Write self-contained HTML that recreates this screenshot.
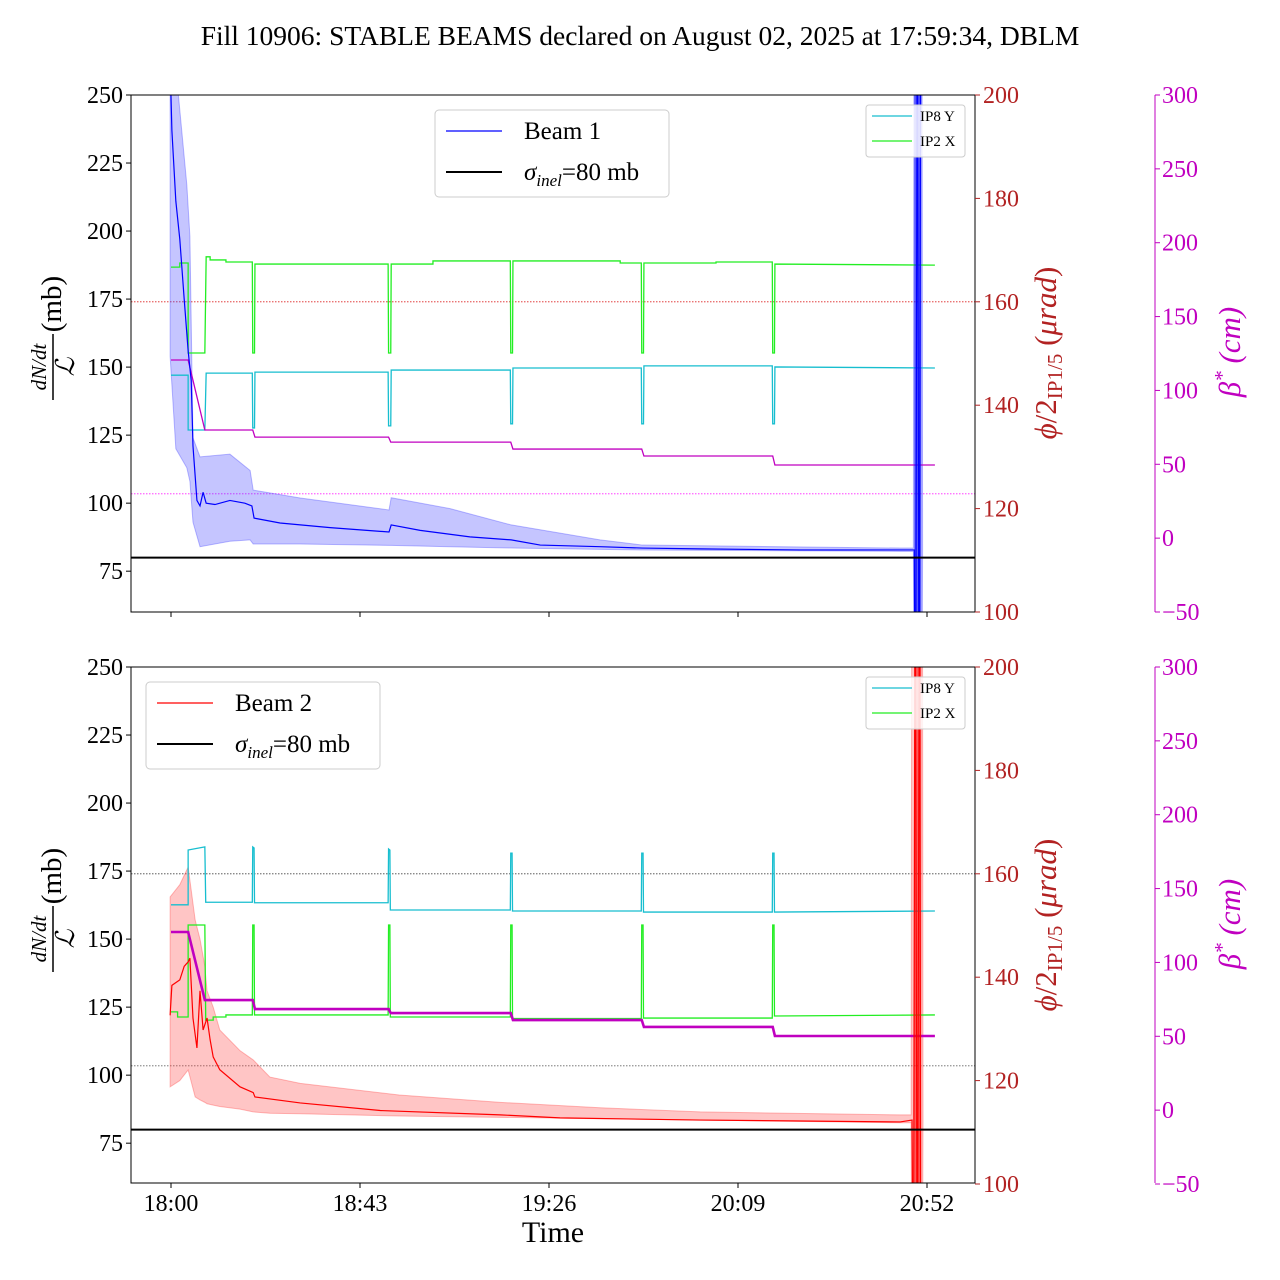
<!DOCTYPE html>
<html><head><meta charset="utf-8">
<style>
html,body{margin:0;padding:0;background:#fff;width:1280px;height:1280px;overflow:hidden;}
svg{display:block;font-family:"Liberation Serif",serif;}
</style></head>
<body>
<svg id="chart" width="1280" height="1280" viewBox="0 0 1280 1280" xmlns="http://www.w3.org/2000/svg">
<defs>
<clipPath id="clipTop"><rect x="131" y="95" width="844" height="517"/></clipPath>
<clipPath id="clipBot"><rect x="131" y="667" width="844" height="516"/></clipPath>
</defs>
<text x="640" y="45" font-size="27.5" text-anchor="middle">Fill 10906: STABLE BEAMS declared on August 02, 2025 at 17:59:34, DBLM</text>
<g id="gTop"></g>
<g id="gBot"></g>
<text x="553" y="1242" font-size="30" text-anchor="middle">Time</text>
</svg>
<script>
// ---- data (time in minutes after 18:00) ----
const xTickLabels = ["18:00","18:43","19:26","20:09","20:52"];
const xTickMinutes = [0,43,86,129,172];
const leftTicks = [75,100,125,150,175,200,225,250];
const phiTicks = [100,120,140,160,180,200];
const betaTicks = [-50,0,50,100,150,200,250,300];

const b1_t = [-0.2,0.2,1.1,2.0,3.0,3.9,4.6,5.0,5.9,6.6,7.3,8.0,10.0,13.4,16.8,18.4,18.9,24.8,36.2,49.6,50.1,56.7,68.0,77.4,84.0,97.6,107.2,120.4,143.1,168.2,169.1,169.4,169.8,170.2,170.6];
const b1_v = [262,237,211,197,175,156,145,121,101,99,104,100,99.5,101,100,99,94.5,92.7,91,89.4,92,90,87.6,86.5,84.6,84,83.5,83.2,82.8,82.8,82.8,0,300,0,300];
const b1band_t = [-0.2,1.1,3.6,4.3,5.0,6.6,13.4,18.0,18.7,29.4,49.6,50.1,63.5,77.4,97.6,107.2,165.9,168.9,169.1,170.8,171.0];
const b1band_hi = [300,260,217,198,124,117,118,112,104.8,101.9,97.5,102,98,92,86.5,84.6,83.5,83.5,400,400,83.5];
const b1band_lo = [154,120,113,108,93,84,86,86.5,85,85,84.5,84.5,84,83.5,83,82.8,82.3,82.3,0,0,82.3];

const topIp2x_t = [0,2.0,2.0,3.9,3.9,7.7,8.0,8.9,8.9,12.5,12.5,18.5,18.6,19.0,19.1,49.4,49.5,50.0,50.1,59.6,59.6,77.2,77.3,77.7,77.8,102.2,102.2,107.0,107.1,107.5,107.6,124,124,136.8,136.9,137.3,137.4,173.8];
const topIp2x_v = [166.7,166.7,167.5,167.5,150.1,150.1,168.7,168.7,168.1,168.1,167.7,167.7,150.1,150.1,167.3,167.3,150.1,150.1,167.3,167.3,167.9,167.9,150.1,150.1,167.9,167.9,167.5,167.5,150.1,150.1,167.5,167.5,167.7,167.7,150.1,150.1,167.3,167.1];
const topIp8y_t = [0,3.9,3.9,7.7,8.0,18.5,18.6,19.0,19.1,49.4,49.5,50.0,50.1,77.2,77.3,77.7,77.8,107.0,107.1,107.5,107.6,136.8,136.9,137.3,137.4,173.8];
const topIp8y_v = [145.8,145.8,135.2,135.2,146.2,146.2,135.6,135.6,146.4,146.4,136,136,146.8,146.8,136.4,136.4,147.2,147.2,136.4,136.4,147.6,147.6,136.4,136.4,147.4,147.2];
const beta_t = [0,3.9,7.7,18.6,19.1,49.5,50.0,77.3,77.8,107.1,107.6,136.9,137.4,173.8];
const topBeta_v = [120.6,120.6,73.2,73.2,68.4,68.4,65,65,60.3,60.3,55.6,55.6,49.5,49.5];

const b2_t = [-0.2,0.2,2.0,3.0,3.9,4.3,5.0,5.9,6.6,7.3,8.2,8.9,9.6,11.1,15.7,18.7,19.1,29.4,47.6,74.9,88.5,120.4,165.9,168.6,168.9,169.3,169.8,170.3,170.6];
const b2_v = [122,133,135,140,141.6,143,121,110,131,116.6,121,113,106.7,102,95.7,93.6,92,89.8,87,85.4,84.3,83.5,82.8,83.5,0,300,0,300,0];
const b2band_t = [-0.2,2.0,3.9,5.5,6.6,7.7,8.2,9.6,11.1,15.7,18.7,22.5,29.4,51.9,74.9,97.6,120.4,165.9,168.4,168.6,170.9,171.1];
const b2band_hi = [165.5,170,176.5,157,150,140,131,125,116.6,109,105.6,99.3,97,92.7,90,88,86.5,85.4,85.4,400,400,85.4];
const b2band_lo = [95.7,98,101.9,92,90.9,90,89.5,89,88.5,87.5,86.5,86,85.8,85,84.5,84,83.5,82.5,82.5,0,0,82.5];

const botIp8y_t = [0,3.9,3.9,7.7,7.9,18.5,18.6,18.9,19.0,49.4,49.5,49.8,49.9,77.2,77.3,77.6,77.7,107.0,107.1,107.4,107.5,136.8,136.9,137.2,137.3,173.8];
const botIp8y_v = [154,154,164.6,165.2,154.5,154.5,165.2,165,154.4,154.4,164.8,164.6,153,153,164,164,152.8,152.8,164,164,152.6,152.6,164,164,152.6,152.8];
const botIp2x_t = [0,1.5,1.5,3.9,3.9,7.7,7.9,9.6,9.6,12.5,12.5,18.5,18.6,18.9,19.0,49.4,49.5,49.8,49.9,77.2,77.3,77.6,77.7,107.0,107.1,107.4,107.5,136.8,136.9,137.2,137.3,173.8];
const botIp2x_v = [133.3,133.3,132.3,132.3,150.1,150.1,131.7,131.7,132.3,132.3,132.7,132.7,150.1,150.1,132.7,132.7,150.1,150.1,132.3,132.3,150.1,150.1,132,132,150.1,150.1,132.1,132.1,150.1,150.1,132.5,132.7];
const botBeta_v = [120.6,120.6,74.5,74.5,68.4,68.4,65.7,65.7,61,61,56.3,56.3,50.2,50.2];

const sigmaInel = 80;
const phiRef = 160;
const betaRef = 30;

// ---- axis functions ----
const NS = "http://www.w3.org/2000/svg";
const X = t => 171 + t * 4.3953;
const makeY = top => ({
  L: v => top + (250 - v) * 517 / 190,
  P: v => top + (200 - v) * 5.17,
  B: v => top + (300 - v) * 517 / 350
});
function el(tag, attrs, parent) {
  const e = document.createElementNS(NS, tag);
  for (const k in attrs) e.setAttribute(k, attrs[k]);
  parent.appendChild(e);
  return e;
}
function linePath(ts, vs, fy) {
  return ts.map((t, i) => (i ? "L" : "M") + X(t).toFixed(2) + "," + fy(vs[i]).toFixed(2)).join("");
}
function bandPath(ts, hi, lo, fy) {
  let d = ts.map((t, i) => (i ? "L" : "M") + X(t).toFixed(2) + "," + fy(hi[i]).toFixed(2)).join("");
  for (let i = ts.length - 1; i >= 0; i--) d += "L" + X(ts[i]).toFixed(2) + "," + fy(lo[i]).toFixed(2);
  return d + "Z";
}

function panel(g, top, bottom, clip, cfg) {
  const Y = makeY(top);
  const pc = el("g", {"clip-path": "url(#" + clip + ")"}, g);
  
  
  let r1 = el("line", {x1:131, x2:975, y1:Y.P(phiRef), y2:Y.P(phiRef), stroke:cfg.phiRefColor, "stroke-width":0.8, "stroke-dasharray":"1.5,1.5"}, pc);
  
  
  let r2 = el("line", {x1:131, x2:975, y1:Y.B(betaRef), y2:Y.B(betaRef), stroke:cfg.betaRefColor, "stroke-width":0.8, "stroke-dasharray":"1.5,1.5"}, pc);
  
  
  let band = el("path", {d: bandPath(cfg.bt, cfg.bhi, cfg.blo, Y.L), fill: cfg.bandColor, "fill-opacity": 0.3, stroke: cfg.bandColor, "stroke-opacity":0.35, "stroke-width":1}, pc);
  
  
  let c1 = el("path", {d: linePath(cfg.ip8t, cfg.ip8v, Y.P), fill:"none", stroke:"#17becf", "stroke-width":1.3}, pc);
  
  
  let c2 = el("path", {d: linePath(cfg.ip2t, cfg.ip2v, Y.P), fill:"none", stroke:"#22ee22", "stroke-width":1.3}, pc);
  
  
  let bl = el("path", {d: linePath(beta_t, cfg.beta, Y.B), fill:"none", stroke:"#c000c0", "stroke-width":cfg.betaW}, pc);
  
  
  let bm = el("path", {d: linePath(cfg.lt, cfg.lv, Y.L), fill:"none", stroke:cfg.lineColor, "stroke-width":1.2}, pc);
  
  
  let band2 = el("rect", {x: X(169.1), y: top, width: X(170.7)-X(169.1), height: bottom-top, fill: cfg.lineColor, "fill-opacity":0.55}, pc);
  
  
  let sg = el("line", {x1:131, x2:975, y1:Y.L(sigmaInel), y2:Y.L(sigmaInel), stroke:"#000", "stroke-width":2}, pc);
  
  

  let fr = el("rect", {x:131, y:top, width:844, height:bottom-top, fill:"none", stroke:"#000", "stroke-width":1}, g);
  
  
  leftTicks.forEach(v => {
    const y = Y.L(v);
    let tk = el("line", {x1:126, x2:131, y1:y, y2:y, stroke:"#000"}, g);
    
    
    let tl = el("text", {x:123, y:y+8, "font-size":24, "text-anchor":"end"}, g);
    tl.textContent = v;
    
    
  });
  phiTicks.forEach(v => {
    const y = Y.P(v);
    let tk = el("line", {x1:975, x2:980, y1:y, y2:y, stroke:"#b22222"}, g);
    
    
    let tl = el("text", {x:983, y:y+8, "font-size":24, fill:"#b22222"}, g);
    tl.textContent = v;
    
    
  });
  let bs = el("line", {x1:1155, x2:1155, y1:top, y2:bottom, stroke:"#c000c0"}, g);
  
  
  betaTicks.forEach(v => {
    const y = Y.B(v);
    let tk = el("line", {x1:1155, x2:1160, y1:y, y2:y, stroke:"#c000c0"}, g);
    
    
    let tl = el("text", {x:1162, y:y+8, "font-size":24, fill:"#c000c0"}, g);
    tl.textContent = (v < 0 ? "\u2212" + (-v) : v);
    
    
  });
  xTickMinutes.forEach((m, i) => {
    const x = X(m);
    let tk = el("line", {x1:x, x2:x, y1:bottom, y2:bottom+5, stroke:"#000"}, g);
    
    
    if (cfg.xLabels) {
      let tl = el("text", {x:x, y:bottom+28, "font-size":24, "text-anchor":"middle"}, g);
      tl.textContent = xTickLabels[i];
      
      
    }
  });
}

const gTop = document.getElementById("gTop");
const gBot = document.getElementById("gBot");
panel(gTop, 95, 612, "clipTop", {name:"beam1", lt:b1_t, lv:b1_v, bt:b1band_t, bhi:b1band_hi, blo:b1band_lo, lineColor:"#0000ff", bandColor:"#4040ff",
  ip8t:topIp8y_t, ip8v:topIp8y_v, ip2t:topIp2x_t, ip2v:topIp2x_v, beta:topBeta_v, betaW:1.3, phiRefColor:"#dd2222", betaRefColor:"#ff22ff", xLabels:false});
panel(gBot, 667, 1183, "clipBot", {name:"beam2", lt:b2_t, lv:b2_v, bt:b2band_t, bhi:b2band_hi, blo:b2band_lo, lineColor:"#ff0000", bandColor:"#ff4040",
  ip8t:botIp8y_t, ip8v:botIp8y_v, ip2t:botIp2x_t, ip2v:botIp2x_v, beta:botBeta_v, betaW:2.6, phiRefColor:"#444", betaRefColor:"#666", xLabels:true});

function axisTitles(g, top) {
  const cy = top + 235;
  const lg = el("g", {transform:"translate(53," + cy + ") rotate(-90)"}, g);
  
  
  let n = el("text", {x:-37, y:-7, "font-size":21, "font-style":"italic", "text-anchor":"middle"}, lg);
  n.textContent = "dN/dt";
  el("line", {x1:-70, x2:-4, y1:0, y2:0, stroke:"#000", "stroke-width":1.5}, lg);
  let d = el("text", {x:-37, y:21, "font-size":26, "font-style":"italic", "text-anchor":"middle"}, lg);
  d.textContent = "\u2112";
  let mb = el("text", {x:26, y:8, "font-size":29, "text-anchor":"middle"}, lg);
  mb.textContent = "(mb)";
  const pg = el("g", {transform:"translate(1056," + (top + 258) + ") rotate(-90)"}, g);
  
  
  let pt = el("text", {x:0, y:0, "font-size":31, fill:"#b22222", "text-anchor":"middle"}, pg);
  pt.innerHTML = '<tspan font-style="italic">\u03d5</tspan>/2<tspan font-size="21" dy="6">IP1/5</tspan><tspan dy="-6"> (</tspan><tspan font-style="italic">\u03bcrad</tspan>)';
  const bg = el("g", {transform:"translate(1240," + (top + 257) + ") rotate(-90)"}, g);
  
  
  let bt = el("text", {x:0, y:0, "font-size":31, fill:"#c000c0", "font-style":"italic", "text-anchor":"middle"}, bg);
  bt.innerHTML = '\u03b2<tspan font-size="21" dy="-11">*</tspan><tspan dy="11"> (cm)</tspan>';
}
axisTitles(gTop, 95);
axisTitles(gBot, 667);

function mainLegend(g, x, y, color, label) {
  const lg = el("g", {}, g);
  
  
  el("rect", {x:x, y:y, width:234, height:87, rx:4, fill:"#fff", "fill-opacity":0.85, stroke:"#ccc"}, lg);
  let l1 = el("line", {x1:x+11, x2:x+67, y1:y+21, y2:y+21, stroke:color, "stroke-width":1.3}, lg);
  
  
  let t1 = el("text", {x:x+89, y:y+29, "font-size":25}, lg);
  t1.textContent = label;
  let l2 = el("line", {x1:x+11, x2:x+67, y1:y+62, y2:y+62, stroke:"#000", "stroke-width":2}, lg);
  
  
  let t2 = el("text", {x:x+89, y:y+70, "font-size":25}, lg);
  t2.innerHTML = '<tspan font-style="italic">\u03c3</tspan><tspan font-style="italic" font-size="17" dy="6">inel</tspan><tspan dy="-6">=80 mb</tspan>';
}
function smallLegend(g, x, y) {
  const lg = el("g", {}, g);
  
  
  el("rect", {x:x, y:y, width:99, height:52, rx:3, fill:"#fff", "fill-opacity":0.85, stroke:"#ccc"}, lg);
  let a = el("line", {x1:x+6, x2:x+46, y1:y+11, y2:y+11, stroke:"#17becf", "stroke-width":1.2}, lg);
  
  
  let ta = el("text", {x:x+54, y:y+16, "font-size":15}, lg);
  ta.textContent = "IP8 Y";
  let b = el("line", {x1:x+6, x2:x+46, y1:y+36, y2:y+36, stroke:"#22ee22", "stroke-width":1.2}, lg);
  
  
  let tb = el("text", {x:x+54, y:y+41, "font-size":15}, lg);
  tb.textContent = "IP2 X";
}
mainLegend(gTop, 435, 110, "#0000ff", "Beam 1");
mainLegend(gBot, 146, 682, "#ff0000", "Beam 2");
smallLegend(gTop, 866, 105);
smallLegend(gBot, 866, 677);
</script>
</body></html>
